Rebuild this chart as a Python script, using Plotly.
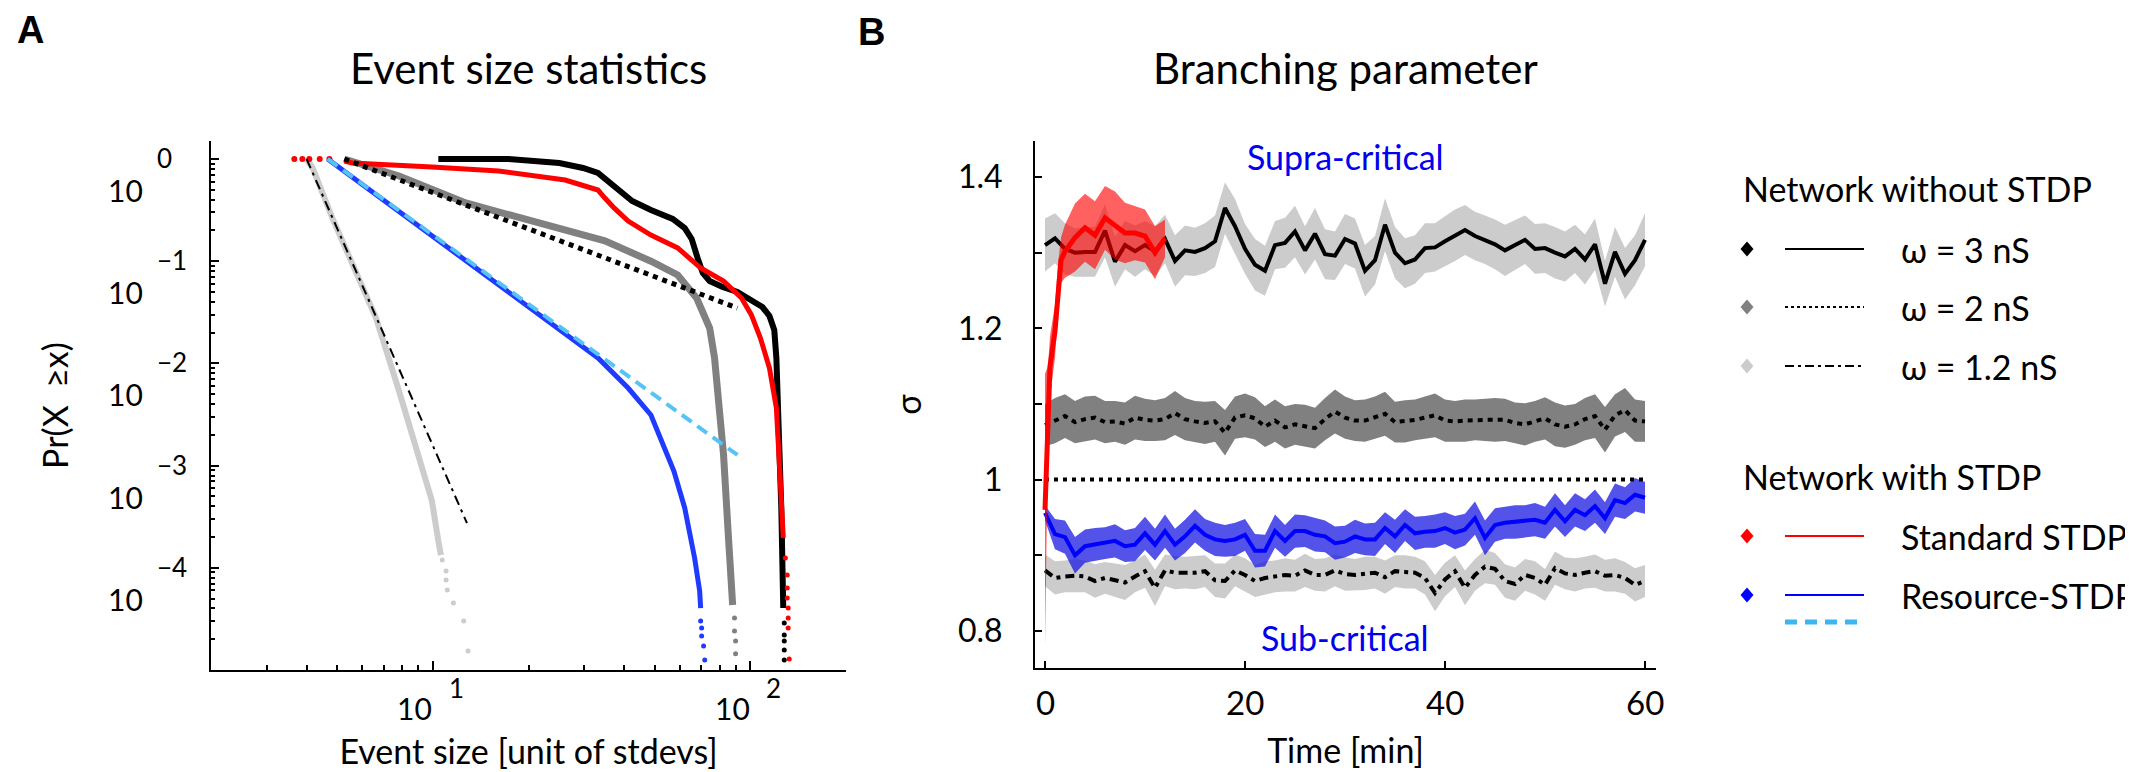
import math
import plotly.graph_objects as go

W, H = 2133, 772
FONT = "Lato"

# ---------------- Panel A data (CCDF of event sizes) ----------------
w3_x = [10.4, 17.3, 25.0, 29.7, 33.1, 38.5, 42.4, 48.6, 56.9, 62.1, 65.3, 68.2, 70.8, 74.4,
        81.7, 91.0, 101.4, 109.1, 114.8, 118.9, 120.7, 122.4, 123.3, 125.1, 126.0, 126.9]
w3_y = [1.0, 1.0, 0.914, 0.817, 0.730, 0.497, 0.388, 0.317, 0.259, 0.211, 0.165, 0.107, 0.0767,
        0.064, 0.056, 0.050, 0.0417, 0.0356, 0.0291, 0.0212, 0.0113, 0.00366, 0.00119, 3.85e-4,
        1.25e-4, 4.04e-5]
w3_tail_x = [127.8, 127.8, 127.8, 127.8, 127.8]
w3_tail_y = [2.88e-5, 2.20e-5, 1.92e-5, 1.57e-5, 1.25e-5]

std_head_x = [3.66, 3.88, 4.08, 4.40, 4.72]
std_head_y = [1.0, 1.0, 1.0, 1.0, 1.0]
std_x = [5.26, 5.57, 9.93, 16.1, 26.1, 29.7, 33.1, 34.8, 37.2, 41.2, 48.6, 59.0, 69.7, 82.3,
         93.7, 100.7, 107.5, 114.8, 120.7, 124.2, 126.9]
std_y = [0.956, 0.914, 0.835, 0.763, 0.623, 0.544, 0.497, 0.415, 0.332, 0.247, 0.180, 0.135,
         0.0857, 0.064, 0.0436, 0.0298, 0.0177, 0.00901, 0.00366, 7.07e-4, 1.96e-4]
std_tail_x = [128.8, 130.6, 130.6, 130.6, 131.5, 131.5, 131.5, 132.5]
std_tail_y = [1.25e-4, 8.5e-5, 6.34e-5, 5.07e-5, 4.04e-5, 3.23e-5, 2.58e-5, 1.28e-5]

w2_x = [5.26, 7.82, 12.7, 20.4, 26.7, 34.8, 48.6, 59.0, 67.7, 74.4, 77.1, 80.0, 82.3, 85.3, 87.9]
w2_y = [1.0, 0.682, 0.371, 0.247, 0.197, 0.158, 0.100, 0.0733, 0.0436, 0.0222, 0.0113,
        0.00366, 0.00127, 1.96e-4, 4.32e-5]
w2_tail_x = [89.1, 89.1, 89.8, 89.8]
w2_tail_y = [3.23e-5, 2.41e-5, 1.92e-5, 1.44e-5]

res_x = [4.66, 22.6, 33.1, 41.2, 48.6, 57.4, 62.1, 66.7, 69.2, 69.7]
res_y = [1.0, 0.0278, 0.0113, 0.00574, 0.00313, 8.85e-4, 3.85e-4, 1.25e-4, 5.93e-5, 4.04e-5]
res_tail_x = [69.7, 70.2, 70.2, 71.2, 71.8]
res_tail_y = [3.02e-5, 2.58e-5, 2.15e-5, 1.72e-5, 1.25e-5]

w12_x = [4.00, 4.18, 4.82, 6.62, 7.82, 9.93, 10.4, 10.6]
w12_y = [1.0, 0.817, 0.265, 0.0278, 0.00537, 4.51e-4, 1.83e-4, 1.33e-4]
w12_tail_x = [10.7, 11.0, 11.0, 11.1, 11.6, 12.5, 12.9]
w12_tail_y = [1.19e-4, 9.3e-5, 7.6e-5, 6.07e-5, 4.53e-5, 3.02e-5, 1.53e-5]

fit_w2_x = [5.26, 91.0]
fit_w2_y = [1.0, 0.0348]
fit_w12_x = [4.00, 12.8]
fit_w12_y = [1.0, 2.74e-4]
fit_res_x = [4.66, 91.0]
fit_res_y = [1.0, 0.00127]

a_xticks = [10, 100]
a_yticks = [1, 0.1, 0.01, 0.001, 0.0001]
a_xminor = [3, 4, 5, 6, 7, 8, 9, 20, 30, 40, 50, 60, 70, 80, 90]
a_yminor = [m * 10.0 ** k for k in range(-5, 0) for m in range(2, 10)]

# ---------------- Panel B data (branching parameter) ----------------
t_min = list(range(61))
sig_w3 = [1.310, 1.319, 1.305, 1.300, 1.301, 1.301, 1.329, 1.288, 1.310, 1.302, 1.310, 1.302,
          1.318, 1.289, 1.303, 1.301, 1.306, 1.315, 1.359, 1.335, 1.305, 1.284, 1.276, 1.310,
          1.313, 1.328, 1.303, 1.325, 1.298, 1.296, 1.318, 1.312, 1.276, 1.290, 1.337, 1.300,
          1.286, 1.291, 1.306, 1.307, 1.315, 1.323, 1.330, 1.322, 1.317, 1.311, 1.303, 1.310,
          1.317, 1.305, 1.306, 1.300, 1.295, 1.305, 1.291, 1.311, 1.259, 1.301, 1.272, 1.290,
          1.317]
err_w3 = [0.035, 0.033, 0.034, 0.032, 0.033, 0.033, 0.035, 0.033, 0.032, 0.034, 0.032, 0.033,
          0.032, 0.034, 0.033, 0.032, 0.033, 0.034, 0.034, 0.036, 0.033, 0.034, 0.033, 0.032,
          0.033, 0.034, 0.032, 0.034, 0.033, 0.032, 0.033, 0.033, 0.034, 0.032, 0.035, 0.034,
          0.033, 0.032, 0.033, 0.032, 0.033, 0.034, 0.033, 0.032, 0.032, 0.033, 0.034, 0.033,
          0.032, 0.033, 0.033, 0.034, 0.033, 0.032, 0.033, 0.034, 0.030, 0.033, 0.034, 0.033,
          0.035]
sig_w2 = [1.072, 1.078, 1.084, 1.076, 1.080, 1.082, 1.076, 1.077, 1.074, 1.082, 1.079, 1.078,
          1.080, 1.088, 1.080, 1.077, 1.075, 1.077, 1.062, 1.082, 1.085, 1.081, 1.070, 1.078,
          1.069, 1.073, 1.071, 1.068, 1.080, 1.090, 1.082, 1.078, 1.078, 1.082, 1.087, 1.076,
          1.077, 1.079, 1.082, 1.085, 1.078, 1.077, 1.078, 1.079, 1.079, 1.079, 1.079, 1.075,
          1.073, 1.077, 1.081, 1.073, 1.070, 1.073, 1.080, 1.084, 1.066, 1.085, 1.092, 1.078,
          1.077]
err_w2 = [0.028, 0.030, 0.029, 0.028, 0.030, 0.029, 0.028, 0.027, 0.028, 0.029, 0.028, 0.027,
          0.028, 0.029, 0.028, 0.027, 0.028, 0.027, 0.030, 0.028, 0.029, 0.028, 0.027, 0.028,
          0.028, 0.027, 0.028, 0.027, 0.028, 0.029, 0.028, 0.027, 0.028, 0.028, 0.029, 0.027,
          0.028, 0.027, 0.028, 0.029, 0.028, 0.027, 0.028, 0.027, 0.028, 0.029, 0.028, 0.027,
          0.028, 0.027, 0.028, 0.029, 0.028, 0.027, 0.028, 0.029, 0.030, 0.028, 0.029, 0.028,
          0.027]
sig_w12 = [0.880, 0.870, 0.872, 0.873, 0.872, 0.866, 0.870, 0.867, 0.864, 0.872, 0.879, 0.857,
           0.880, 0.877, 0.877, 0.877, 0.879, 0.867, 0.866, 0.880, 0.874, 0.866, 0.870, 0.872,
           0.874, 0.873, 0.880, 0.874, 0.874, 0.880, 0.875, 0.874, 0.876, 0.877, 0.871, 0.879,
           0.878, 0.877, 0.870, 0.850, 0.868, 0.879, 0.857, 0.874, 0.885, 0.882, 0.866, 0.862,
           0.874, 0.870, 0.861, 0.883, 0.876, 0.874, 0.877, 0.879, 0.873, 0.874, 0.870, 0.861,
           0.866]
err_w12 = [0.021, 0.022, 0.021, 0.022, 0.021, 0.022, 0.021, 0.022, 0.023, 0.021, 0.022, 0.024,
           0.021, 0.022, 0.021, 0.022, 0.021, 0.022, 0.023, 0.021, 0.022, 0.021, 0.022, 0.021,
           0.022, 0.021, 0.022, 0.021, 0.022, 0.021, 0.022, 0.021, 0.022, 0.021, 0.022, 0.021,
           0.022, 0.021, 0.022, 0.024, 0.022, 0.021, 0.023, 0.021, 0.022, 0.021, 0.022, 0.022,
           0.021, 0.022, 0.021, 0.022, 0.021, 0.022, 0.021, 0.022, 0.021, 0.022, 0.021, 0.022,
           0.021]
sig_res = [0.956, 0.928, 0.924, 0.900, 0.912, 0.914, 0.916, 0.919, 0.912, 0.914, 0.929, 0.914,
           0.932, 0.914, 0.925, 0.939, 0.927, 0.921, 0.919, 0.921, 0.927, 0.906, 0.906, 0.932,
           0.919, 0.932, 0.932, 0.927, 0.925, 0.916, 0.918, 0.925, 0.921, 0.921, 0.936, 0.925,
           0.940, 0.929, 0.931, 0.932, 0.936, 0.930, 0.934, 0.949, 0.923, 0.940, 0.943, 0.944,
           0.945, 0.947, 0.943, 0.960, 0.945, 0.960, 0.953, 0.965, 0.949, 0.973, 0.969, 0.980,
           0.976]
err_res = [0.010, 0.020, 0.022, 0.024, 0.022, 0.022, 0.021, 0.022, 0.021, 0.022, 0.022, 0.021,
           0.022, 0.021, 0.022, 0.022, 0.021, 0.022, 0.021, 0.022, 0.021, 0.022, 0.021, 0.022,
           0.021, 0.022, 0.021, 0.022, 0.021, 0.022, 0.021, 0.022, 0.021, 0.022, 0.021, 0.022,
           0.021, 0.022, 0.021, 0.022, 0.021, 0.022, 0.021, 0.022, 0.023, 0.022, 0.021, 0.022,
           0.021, 0.022, 0.021, 0.022, 0.021, 0.022, 0.021, 0.022, 0.021, 0.022, 0.021, 0.022,
           0.021]
t_std = [0, 0.3, 0.5, 1, 1.3, 1.6, 2, 3, 4, 5, 6, 7, 8, 9, 10, 11, 12]
sig_std = [0.960, 1.100, 1.150, 1.196, 1.255, 1.290, 1.302, 1.320, 1.333, 1.323, 1.346, 1.336,
           1.326, 1.326, 1.322, 1.300, 1.319]
err_std = [0.180, 0.050, 0.040, 0.035, 0.030, 0.030, 0.035, 0.045, 0.045, 0.045, 0.042, 0.045,
           0.040, 0.036, 0.035, 0.035, 0.025]
critical_t = [0, 60]
critical_sig = [1.0, 1.0]

b_xticks = [0, 20, 40, 60]
b_yticks = [0.8, 0.9, 1.0, 1.1, 1.2, 1.3, 1.4]
b_yticktext = ["0.8", "", "1", "", "1.2", "", "1.4"]

# legend content
leg_groups = ["Network without STDP", "Network with STDP"]
leg_labels = ["\u03c9 = 3 nS", "\u03c9 = 2 nS", "\u03c9 = 1.2 nS", "Standard STDP", "Resource-STDP"]

# ---------------- helpers ----------------
def px(x):
    return x / W


def py(y):
    return 1 - y / H


C_BLACK = "#000000"
C_GRAY = "#808080"
C_LGRAY = "#cccccc"
C_RED = "#ff0000"
C_BLUE = "#1f3bff"
C_CYAN = "#55c3f5"

fig = go.Figure()


def a_line(x, y, color, width, dash=None):
    fig.add_trace(go.Scatter(x=x, y=y, mode="lines", xaxis="x", yaxis="y",
                             line=dict(color=color, width=width, dash=dash),
                             showlegend=False, hoverinfo="skip"))


def a_dots(x, y, color, size=5):
    fig.add_trace(go.Scatter(x=x, y=y, mode="markers", xaxis="x", yaxis="y",
                             marker=dict(color=color, size=size, line=dict(width=0)),
                             showlegend=False, hoverinfo="skip"))


a_line(w12_x, w12_y, C_LGRAY, 6)
a_dots(w12_tail_x, w12_tail_y, C_LGRAY)
a_line(w2_x, w2_y, C_GRAY, 7)
a_dots(w2_tail_x, w2_tail_y, C_GRAY)
a_line(w3_x, w3_y, C_BLACK, 6)
a_dots(w3_tail_x, w3_tail_y, C_BLACK)
a_line(std_x, std_y, C_RED, 5)
a_dots(std_head_x, std_head_y, C_RED, 6)
a_dots(std_tail_x, std_tail_y, C_RED)
a_line(res_x, res_y, C_BLUE, 5)
a_dots(res_tail_x, res_tail_y, C_BLUE)
a_line(fit_w12_x, fit_w12_y, C_BLACK, 2, "10px,5px,3px,5px")
a_line(fit_w2_x, fit_w2_y, C_BLACK, 5, "5px,5px")
a_line(fit_res_x, fit_res_y, C_CYAN, 4, "12px,7px")


def b_band(t, m, e, color):
    up = [a + b for a, b in zip(m, e)]
    lo = [a - b for a, b in zip(m, e)]
    fig.add_trace(go.Scatter(x=list(t) + list(t)[::-1], y=up + lo[::-1], mode="lines",
                             fill="toself", fillcolor=color, line=dict(width=0),
                             xaxis="x2", yaxis="y2", showlegend=False, hoverinfo="skip"))


def b_line(t, m, color, width, dash=None):
    fig.add_trace(go.Scatter(x=t, y=m, mode="lines", xaxis="x2", yaxis="y2",
                             line=dict(color=color, width=width, dash=dash),
                             showlegend=False, hoverinfo="skip"))


b_band(t_min, sig_w3, err_w3, C_LGRAY)
b_band(t_min, sig_w2, err_w2, C_GRAY)
b_band(t_min, sig_w12, err_w12, C_LGRAY)
b_band(t_min, sig_res, err_res, "rgba(25,25,225,0.75)")
b_line(critical_t, critical_sig, C_BLACK, 4, "4px,5px")
b_line(t_min, sig_w3, C_BLACK, 4)
b_line(t_min, sig_w2, C_BLACK, 4, "5px,5px")
b_line(t_min, sig_w12, C_BLACK, 4, "9px,5px,4px,5px")
b_line(t_min, sig_res, "#0000ff", 4)
b_band(t_std, sig_std, err_std, "rgba(255,0,0,0.62)")
b_line(t_std, sig_std, C_RED, 5)

# ---------------- layout ----------------
axis_common = dict(showline=True, linecolor="black", linewidth=2, showgrid=False,
                   zeroline=False, ticks="inside", tickcolor="black", tickwidth=2,
                   mirror=False)

annotations = []
shapes = []

# panel letters and titles
annotations += [
    dict(text="<b>A</b>", x=px(22), y=py(22), xref="paper", yref="paper", showarrow=False,
         xanchor="center", yanchor="middle",
         font=dict(family="Liberation Sans", size=38, color="black")),
    dict(text="<b>B</b>", x=px(863), y=py(24), xref="paper", yref="paper", showarrow=False,
         xanchor="center", yanchor="middle",
         font=dict(family="Liberation Sans", size=38, color="black")),
    dict(text="Event size statistics", x=0.5, y=py(60), xref="x domain", yref="paper",
         xanchor="center", yanchor="middle",
         showarrow=False, font=dict(family=FONT, size=42, color="black")),
    dict(text="Branching parameter", x=0.5, y=py(60), xref="x2 domain", yref="paper",
         xanchor="center", yanchor="middle",
         showarrow=False, font=dict(family=FONT, size=42, color="black")),
    dict(text="Supra-critical", x=30, y=1.4275, xref="x2", yref="y2", showarrow=False,
         xanchor="center", yanchor="middle",
         font=dict(family=FONT, size=34, color="#0000ee")),
    dict(text="Sub-critical", x=30, y=0.791, xref="x2", yref="y2", showarrow=False,
         xanchor="center", yanchor="middle",
         font=dict(family=FONT, size=34, color="#0000ee")),
]

# panel A tick labels (MATLAB-style 10^k)
for v in a_yticks:
    k = int(round(math.log10(v)))
    annotations.append(dict(text="10", x=0, y=k, xref="x domain", yref="y", xanchor="right",
                            yanchor="middle", xshift=-66, yshift=-31, showarrow=False,
                            font=dict(family=FONT, size=30, color="black")))
    annotations.append(dict(text=str(k).replace("-", "\u2212"), x=0, y=k, xref="x domain",
                            yref="y", xanchor="left", yanchor="middle", xshift=-56, yshift=1,
                            showarrow=False, font=dict(family=FONT, size=26, color="black")))
for v in a_xticks:
    k = int(round(math.log10(v)))
    annotations.append(dict(text="10", x=k, y=0, xref="x", yref="y domain", xanchor="center",
                            yanchor="middle", xshift=-18, yshift=-38, showarrow=False,
                            font=dict(family=FONT, size=30, color="black")))
    annotations.append(dict(text=str(k), x=k, y=0, xref="x", yref="y domain", xanchor="left",
                            yanchor="middle", xshift=14, yshift=-18, showarrow=False,
                            font=dict(family=FONT, size=26, color="black")))

# panel B x tick labels
for v in b_xticks:
    annotations.append(dict(text=str(v), x=v, y=0, xref="x2", yref="y2 domain",
                            xanchor="center", yanchor="middle", yshift=-34, showarrow=False,
                            font=dict(family=FONT, size=33, color="black")))

# legend (drawn in figure space)
leg_x_marker, leg_x0, leg_x1, leg_x_text = 1739, 1777, 1856, 1891
annotations.append(dict(text=leg_groups[0], x=px(1733), y=py(181), xref="paper", yref="paper",
                        xanchor="left", yanchor="middle", showarrow=False,
                        font=dict(family=FONT, size=34, color="black")))
annotations.append(dict(text=leg_groups[1], x=px(1733), y=py(468), xref="paper", yref="paper",
                        xanchor="left", yanchor="middle", showarrow=False,
                        font=dict(family=FONT, size=34, color="black")))
leg_rows_y = [241, 299, 358, 528, 587]
leg_marker_col = [C_BLACK, C_GRAY, C_LGRAY, C_RED, "#0000ff"]
leg_line_col = [C_BLACK, C_BLACK, C_BLACK, C_RED, "#0000ff"]
leg_line_dash = ["solid", "3px,3px", "9px,4px,3px,4px", "solid", "solid"]
for lab, yy, mc, lc, ld in zip(leg_labels, leg_rows_y, leg_marker_col, leg_line_col, leg_line_dash):
    shapes.append(dict(type="path", xref="paper", yref="paper", xsizemode="pixel",
                       ysizemode="pixel", xanchor=px(leg_x_marker), yanchor=py(yy),
                       path="M 0 7.5 L 6.5 0 L 0 -7.5 L -6.5 0 Z", fillcolor=mc,
                       line=dict(width=0)))
    shapes.append(dict(type="line", xref="paper", yref="paper", x0=px(leg_x0), x1=px(leg_x1),
                       y0=py(yy), y1=py(yy), line=dict(color=lc, width=2, dash=ld)))
    annotations.append(dict(text=lab, x=px(leg_x_text), y=py(yy), xref="paper", yref="paper",
                            xanchor="left", yanchor="middle", showarrow=False,
                            font=dict(family=FONT, size=34, color="black")))
shapes.append(dict(type="line", xref="paper", yref="paper", x0=px(leg_x0), x1=px(leg_x1),
                   y0=py(614), y1=py(614), line=dict(color="#3db5f0", width=5, dash="12px,8px")))

fig.update_layout(
    width=W, height=H,
    margin=dict(l=0, r=0, t=0, b=0),
    paper_bgcolor="white", plot_bgcolor="white",
    font=dict(family=FONT, color="black"),
    showlegend=False,
    xaxis=dict(axis_common, type="log", range=[math.log10(2), math.log10(200)],
               domain=[px(203), px(838)], anchor="y",
               tickvals=a_xticks, ticklen=9, showticklabels=False,
               minor=dict(tickvals=a_xminor, ticks="inside", ticklen=5, tickwidth=1.5,
                          tickcolor="black"),
               title=dict(text="Event size [unit of stdevs]", standoff=69,
                          font=dict(family=FONT, size=34))),
    yaxis=dict(axis_common, type="log", range=[-5.0, 0.176],
               domain=[py(662), py(133)], anchor="x",
               tickvals=a_yticks, ticklen=8, showticklabels=False,
               minor=dict(tickvals=a_yminor, ticks="inside", ticklen=4, tickwidth=1.5,
                          tickcolor="black"),
               title=dict(text="Pr(X  \u2265x)", standoff=130,
                          font=dict(family=FONT, size=34))),
    xaxis2=dict(axis_common, range=[-1, 61.1], domain=[px(1027), px(1648)], anchor="y2",
                tickvals=b_xticks, ticklen=7, showticklabels=False,
                title=dict(text="Time [min]", standoff=70, font=dict(family=FONT, size=34))),
    yaxis2=dict(axis_common, range=[0.751, 1.4476], domain=[py(660), py(133)], anchor="x2",
                tickvals=b_yticks, ticktext=b_yticktext, ticklen=7, ticklabelstandoff=24,
                tickfont=dict(family=FONT, size=32),
                title=dict(text="\u03c3", standoff=26, font=dict(family=FONT, size=34))),
    annotations=annotations,
    shapes=shapes,
)

fig.write_html("out.html")
